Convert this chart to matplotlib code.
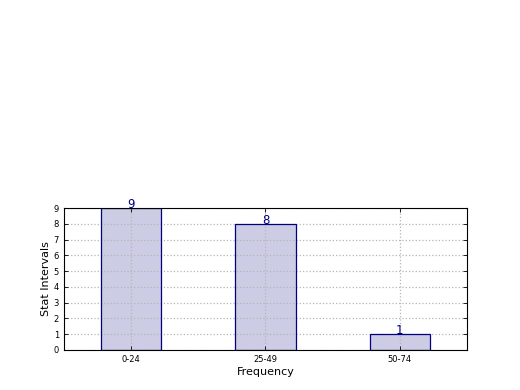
import matplotlib
matplotlib.use("Agg")
import matplotlib.pyplot as plt

intervals = ["0-24", "25-49", "50-74"]
counts = [9, 8, 1]

fig = plt.figure(figsize=(5.2, 3.9), dpi=100)
ax = fig.add_axes([0.123, 0.1026, 0.775, 0.364])

pos = list(range(len(intervals)))
ax.bar(pos, counts, width=0.45, color="navy", alpha=0.2, zorder=1)
# separate edge so the outline stays opaque and sits over the grid
ax.bar(pos, counts, width=0.45, fill=False, edgecolor="navy", linewidth=0.9, zorder=3)

for x, c in zip(pos, counts):
    ax.text(x, c, str(c), ha="center", va="baseline", color="navy", fontsize=8.5, zorder=3)

ax.set_xlim(-0.5, 2.5)
ax.set_ylim(0, 9)
ax.set_yticks(range(0, 10))
ax.set_xticks(pos)
ax.set_xticklabels(intervals)
ax.tick_params(direction="in", labelsize=6, top=True, right=True, length=3, width=0.6)
ax.grid(True, linestyle=":", color="#b5b5b5", linewidth=0.9)
ax.set_axisbelow(False)
for s in ax.spines.values():
    s.set_linewidth(0.8)
    s.set_zorder(4)

ax.set_xlabel("Frequency", fontsize=8, labelpad=2)
ax.set_ylabel("Stat Intervals", fontsize=8, labelpad=2)

fig.savefig("out.png", dpi=100, facecolor="white")
